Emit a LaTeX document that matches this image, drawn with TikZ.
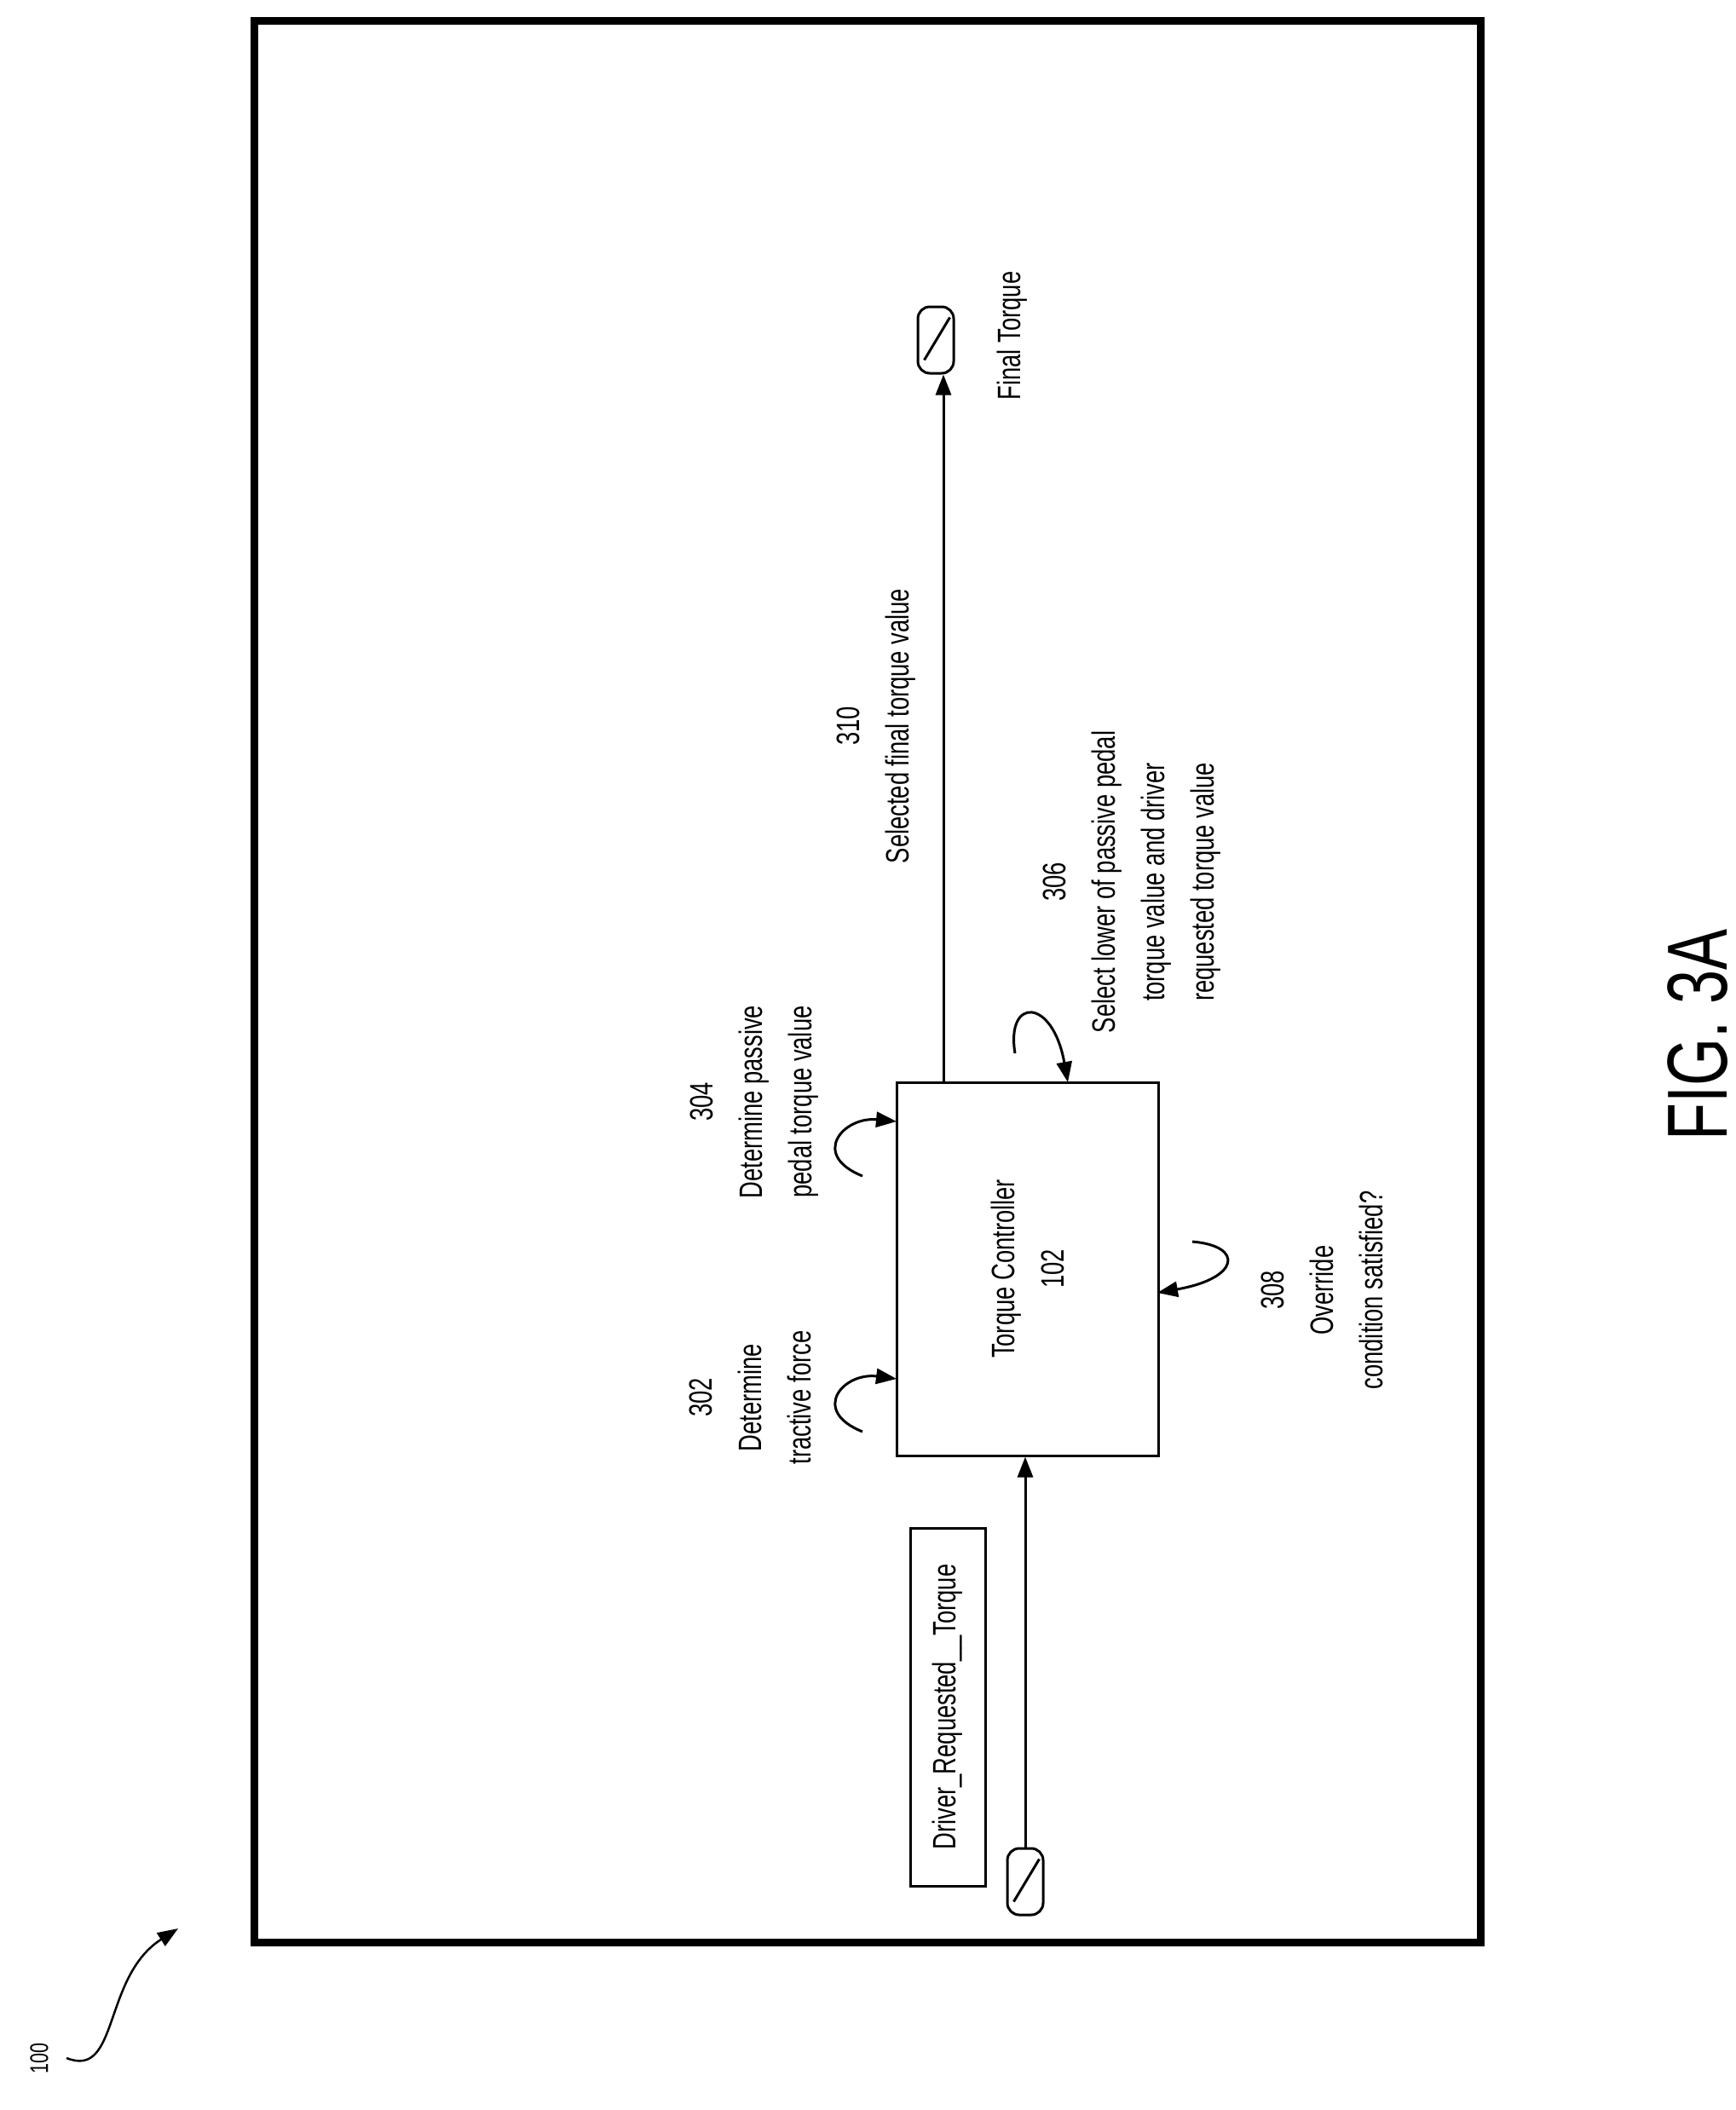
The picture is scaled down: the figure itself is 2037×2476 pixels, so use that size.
\documentclass[tikz,border=0pt]{standalone}
\usepackage{fontspec}
\setmainfont[FakeStretch=0.72]{Liberation Sans}
\usetikzlibrary{arrows.meta,positioning}
\tikzset{
  lbl/.style={rotate=90, align=center, font=\fontsize{38}{58}\selectfont, inner sep=0},
  pill/.style={draw, line width=3, rounded corners=14, minimum width=42, minimum height=78, inner sep=0},
  tip/.style={-{Triangle[length=24,width=18]}},
}
\begin{document}
\begin{tikzpicture}[x=1pt,y=-1pt,line width=3]
    \useasboundingbox (0,0) rectangle (2037,2476);

    %Shape: Frame
    \draw [line width=9] (298,24) rectangle (1737,2279);

    %Shape: Controller box
    \node [draw, minimum width=307, minimum height=438, inner sep=0] (ctrl) at (1206,1489) {};
    \node [lbl] (ctrltxt) at (ctrl.center) {Torque Controller\\102};

    %Shape: Input pill
    \node [pill] (inpill) at (1203,2208) {};
    \draw (inpill.north east) ++(-6,14) -- ++(-30,50);
    \draw [tip] (inpill.north) -- (ctrl.south -| inpill.north);
    %Shape: Signal name box
    \node [draw, minimum width=88, minimum height=420, inner sep=0] (drqbox) at (1112,2003) {};
    \node [lbl] (drqtxt) at (drqbox.center) {Driver\_Requested\_\_Torque};

    %Shape: Output pill
    \node [pill] (outpill) at (1098,399) {};
    \draw (outpill.north east) ++(-6,14) -- ++(-30,50);
    \coordinate (outstart) at (1107,1270);
    \draw [tip] (outstart) -- (outstart |- outpill.south);
    \node [lbl, anchor=north] (fintxt) at (1168,394) {Final Torque};

    %Loops
    \draw [tip] (1012,1680) .. controls (950,1655) and (990,1610) .. (1052,1618);
    \draw [tip] (1012,1380) .. controls (950,1355) and (990,1310) .. (1052,1316);
    \draw [tip] (1191,1236) .. controls (1180,1170) and (1235,1170) .. (1253,1270);
    \draw [tip] (1399,1457) .. controls (1460,1462) and (1455,1500) .. (1358,1517);

    % Text Node
    \node [lbl] (t302) at (880,1640) {302\\Determine\\tractive force};
    \node [lbl] (t304) at (885,1293) {304\\Determine passive\\pedal torque value};
    \node [lbl] (t306) at (1328,1035) {306\\Select lower of passive pedal\\torque value and driver\\requested torque value};
    \node [lbl] (t308) at (1551,1514) {308\\Override\\condition satisfied?};
    \node [lbl] (t310) at (1028,852) {310\\Selected final torque value};
    \node [rotate=90, font=\fontsize{100}{110}\selectfont, inner sep=0] (fig) at (1992,1214) {FIG. 3A};

    %Reference 100
    \node [lbl, font=\fontsize{30}{36}\selectfont] (ref) at (46,2415) {100};
    \draw [tip, line width=2.5] (ref.south) ++(20,0) .. controls (140,2440) and (120,2320) .. (209,2263);
\end{tikzpicture}
\end{document}
